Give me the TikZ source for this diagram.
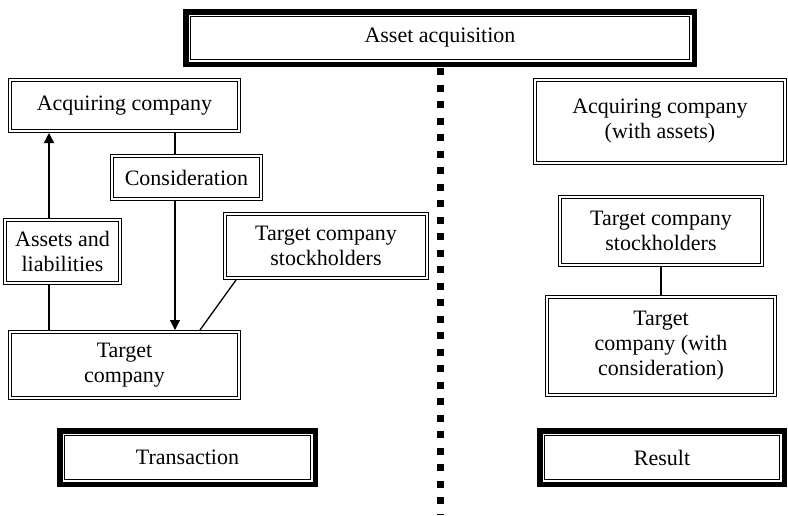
\documentclass[tikz,border=0pt]{standalone}
\usepackage{fontspec}
\setmainfont{Liberation Serif}
\usepackage{tikz}
\usetikzlibrary{positioning,arrows.meta}

\tikzset{
  dblbox/.style={draw, double, double distance=2pt, line width=1.2pt,
    outer sep=2.2pt, inner sep=0pt, align=center,
    font=\fontsize{22}{25}\selectfont},
  framebox/.style={draw, line width=5.5pt, outer sep=0pt, inner sep=0pt,
    align=center, font=\fontsize{22}{25}\selectfont},
  link/.style={line width=1.3pt},
  flow/.style={link, -{Triangle[width=10pt,length=10pt]}},
  divider/.style={line width=7pt, dash pattern=on 7pt off 9.5pt}
}

\begin{document}
\begin{tikzpicture}[x=1pt,y=-1pt]
  \useasboundingbox (0,0) rectangle (788,515);
  % heading and the dividing line
  \node[framebox, minimum width=508.5pt, minimum height=52.5pt] (title) at (440,38) {Asset acquisition};
  \draw[divider] (440,68) -- (440,515);

  % transaction side
  \node[dblbox, minimum width=228.6pt, minimum height=50.6pt] (acq) at (124.5,105.5) {Acquiring company};
  \node[dblbox, minimum width=148.6pt, minimum height=42.6pt] (cons) at (186.5,177.5) {Consideration};
  \node[dblbox, minimum width=114.6pt, minimum height=62.6pt] (assets) at (62.5,251.5) {Assets and\\liabilities};
  \node[dblbox, minimum width=201.6pt, minimum height=63.6pt] (stock) at (326,246) {Target company\\stockholders};
  \node[dblbox, minimum width=228.6pt, minimum height=65.6pt] (target) at (124.5,365) {Target\\company};
  \node[framebox, minimum width=255.5pt, minimum height=53.5pt] (trans) at (187.5,457.5) {Transaction};

  \coordinate (upx) at (49,0);
  \coordinate (downx) at (175,0);
  \draw[flow] (upx |- assets.north) -- (upx |- acq.south);
  \draw[link] (upx |- assets.south) -- (upx |- target.north);
  \draw[link] (downx |- acq.south) -- (downx |- cons.north);
  \draw[flow] (downx |- cons.south) -- (downx |- target.north);
  \draw[link] ([xshift=13pt]stock.south west) -- ([xshift=75.5pt]target.north);

  % result side
  \node[dblbox, minimum width=249.6pt, minimum height=82.6pt] (acqres) at (660,121.5) {Acquiring company\\(with assets)};
  \node[dblbox, minimum width=201.6pt, minimum height=67.6pt] (stockres) at (661,231) {Target company\\stockholders};
  \node[dblbox, minimum width=227.6pt, minimum height=97.6pt] (targetres) at (661,346) {Target\\company (with\\consideration)};
  \node[framebox, minimum width=244.5pt, minimum height=53.5pt] (result) at (662,457.5) {Result};
  \draw[link] (stockres.south) -- (stockres.south |- targetres.north);

  % inner rules of the heavy frames
  \foreach \n in {title,trans,result}
    \draw[line width=1.1pt] ([shift={(4.9pt,-4.9pt)}]\n.north west) rectangle ([shift={(-4.9pt,4.9pt)}]\n.south east);
\end{tikzpicture}
\end{document}
